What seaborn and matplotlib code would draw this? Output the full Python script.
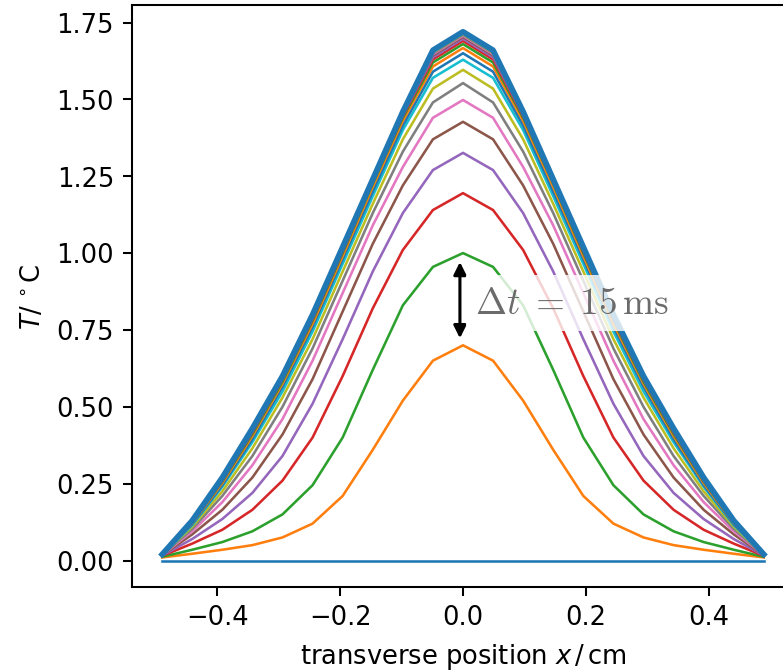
import seaborn as sns
import pandas as pd
import matplotlib.pyplot as plt

# transverse grid (cm)
x_pos = [-0.49, -0.441, -0.392, -0.343, -0.294, -0.245, -0.196, -0.147, -0.098, -0.049, 0.0,
         0.049, 0.098, 0.147, 0.196, 0.245, 0.294, 0.343, 0.392, 0.441, 0.49]

# temperature profiles, one every 15 ms
temp_00 = [0.0] * 21
temp_01 = [0.01, 0.022, 0.035, 0.05, 0.075, 0.12, 0.21, 0.36, 0.52, 0.65, 0.70, 0.65, 0.52, 0.36, 0.21, 0.12, 0.075, 0.05, 0.035, 0.022, 0.01]
temp_02 = [0.012, 0.035, 0.06, 0.095, 0.15, 0.245, 0.40, 0.62, 0.83, 0.955, 1.00, 0.955, 0.83, 0.62, 0.40, 0.245, 0.15, 0.095, 0.06, 0.035, 0.012]
temp_03 = [0.015, 0.055, 0.10, 0.165, 0.26, 0.40, 0.60, 0.82, 1.01, 1.14, 1.195, 1.14, 1.01, 0.82, 0.60, 0.40, 0.26, 0.165, 0.10, 0.055, 0.015]
temp_04 = [0.016, 0.07, 0.135, 0.22, 0.34, 0.51, 0.72, 0.94, 1.13, 1.27, 1.326, 1.27, 1.13, 0.94, 0.72, 0.51, 0.34, 0.22, 0.135, 0.07, 0.016]
temp_05 = [0.017, 0.085, 0.165, 0.27, 0.41, 0.59, 0.81, 1.03, 1.22, 1.37, 1.427, 1.37, 1.22, 1.03, 0.81, 0.59, 0.41, 0.27, 0.165, 0.085, 0.017]
temp_06 = [0.018, 0.095, 0.19, 0.31, 0.46, 0.65, 0.87, 1.09, 1.28, 1.44, 1.498, 1.44, 1.28, 1.09, 0.87, 0.65, 0.46, 0.31, 0.19, 0.095, 0.018]
temp_07 = [0.018, 0.103, 0.21, 0.34, 0.50, 0.69, 0.91, 1.13, 1.33, 1.49, 1.553, 1.49, 1.33, 1.13, 0.91, 0.69, 0.50, 0.34, 0.21, 0.103, 0.018]
temp_08 = [0.019, 0.11, 0.225, 0.365, 0.53, 0.72, 0.94, 1.16, 1.37, 1.535, 1.596, 1.535, 1.37, 1.16, 0.94, 0.72, 0.53, 0.365, 0.225, 0.11, 0.019]
temp_09 = [0.019, 0.115, 0.24, 0.385, 0.55, 0.745, 0.965, 1.185, 1.40, 1.57, 1.629, 1.57, 1.40, 1.185, 0.965, 0.745, 0.55, 0.385, 0.24, 0.115, 0.019]
temp_10 = [0.019, 0.118, 0.245, 0.395, 0.565, 0.76, 0.98, 1.20, 1.415, 1.59, 1.650, 1.59, 1.415, 1.20, 0.98, 0.76, 0.565, 0.395, 0.245, 0.118, 0.019]
temp_11 = [0.02, 0.121, 0.252, 0.405, 0.575, 0.77, 0.99, 1.215, 1.43, 1.607, 1.667, 1.607, 1.43, 1.215, 0.99, 0.77, 0.575, 0.405, 0.252, 0.121, 0.02]
temp_12 = [0.02, 0.123, 0.257, 0.412, 0.582, 0.78, 1.00, 1.225, 1.44, 1.62, 1.680, 1.62, 1.44, 1.225, 1.00, 0.78, 0.582, 0.412, 0.257, 0.123, 0.02]
temp_13 = [0.02, 0.125, 0.26, 0.417, 0.588, 0.785, 1.005, 1.23, 1.445, 1.63, 1.690, 1.63, 1.445, 1.23, 1.005, 0.785, 0.588, 0.417, 0.26, 0.125, 0.02]
temp_14 = [0.02, 0.126, 0.262, 0.421, 0.592, 0.79, 1.01, 1.233, 1.45, 1.637, 1.697, 1.637, 1.45, 1.233, 1.01, 0.79, 0.592, 0.421, 0.262, 0.126, 0.02]
temp_15 = [0.02, 0.127, 0.264, 0.424, 0.595, 0.793, 1.012, 1.235, 1.453, 1.643, 1.703, 1.643, 1.453, 1.235, 1.012, 0.793, 0.595, 0.424, 0.264, 0.127, 0.02]
temp_16 = [0.02, 0.128, 0.266, 0.426, 0.596, 0.795, 1.014, 1.237, 1.455, 1.647, 1.707, 1.647, 1.455, 1.237, 1.014, 0.795, 0.596, 0.426, 0.266, 0.128, 0.02]
temp_17 = [0.02, 0.128, 0.267, 0.427, 0.597, 0.797, 1.016, 1.238, 1.457, 1.650, 1.710, 1.650, 1.457, 1.238, 1.016, 0.797, 0.597, 0.427, 0.267, 0.128, 0.02]
temp_18 = [0.02, 0.129, 0.268, 0.428, 0.598, 0.798, 1.017, 1.239, 1.458, 1.653, 1.713, 1.653, 1.458, 1.239, 1.017, 0.798, 0.598, 0.428, 0.268, 0.129, 0.02]
temp_19 = [0.02, 0.129, 0.269, 0.429, 0.599, 0.799, 1.018, 1.239, 1.459, 1.655, 1.715, 1.655, 1.459, 1.239, 1.018, 0.799, 0.599, 0.429, 0.269, 0.129, 0.02]
# steady state
temp_inf = [0.02, 0.13, 0.27, 0.43, 0.60, 0.80, 1.02, 1.24, 1.46, 1.66, 1.72, 1.66, 1.46, 1.24, 1.02, 0.80, 0.60, 0.43, 0.27, 0.13, 0.02]

profiles = [temp_00, temp_01, temp_02, temp_03, temp_04, temp_05, temp_06, temp_07, temp_08, temp_09,
            temp_10, temp_11, temp_12, temp_13, temp_14, temp_15, temp_16, temp_17, temp_18, temp_19]

rows = []
for step, temps in enumerate(profiles):
    for xx, tt in zip(x_pos, temps):
        rows.append((step, xx, tt))
df = pd.DataFrame(rows, columns=["step", "x", "T"])
df_inf = pd.DataFrame({"x": x_pos, "T": temp_inf})

DPI = 185
fig = plt.figure(figsize=(783.4 / DPI, 671.4 / DPI), dpi=DPI)
ax = fig.add_axes([0.1686, 0.1252, 0.8448, 0.8663])

tab = sns.color_palette("tab10")
pal = [tab[i % 10] for i in range(len(profiles))]
sns.lineplot(data=df, x="x", y="T", hue="step", palette=pal, linewidth=1,
             legend=False, errorbar=None, ax=ax)
sns.lineplot(data=df_inf, x="x", y="T", color=tab[0], linewidth=2.2,
             errorbar=None, ax=ax)

ax.set_xlabel(r"transverse position $x\,/\,$cm")
ax.set_ylabel(r"$T/\,^\circ$C")

# time step marker
ax.annotate("", xy=(-0.005, 0.723), xytext=(-0.005, 0.971),
            arrowprops=dict(arrowstyle="<|-|>", color="black", lw=1.2,
                            shrinkA=0, shrinkB=0))
ax.text(0.02, 0.837, r"$\Delta t\;=\;15\,\mathrm{ms}$", fontsize=14.5,
        math_fontfamily="cm", color="0.42", ha="left", va="center",
        bbox=dict(boxstyle="square,pad=0.25", facecolor="white",
                  edgecolor="none", alpha=0.8))

fig.savefig("out.png", dpi=DPI)
